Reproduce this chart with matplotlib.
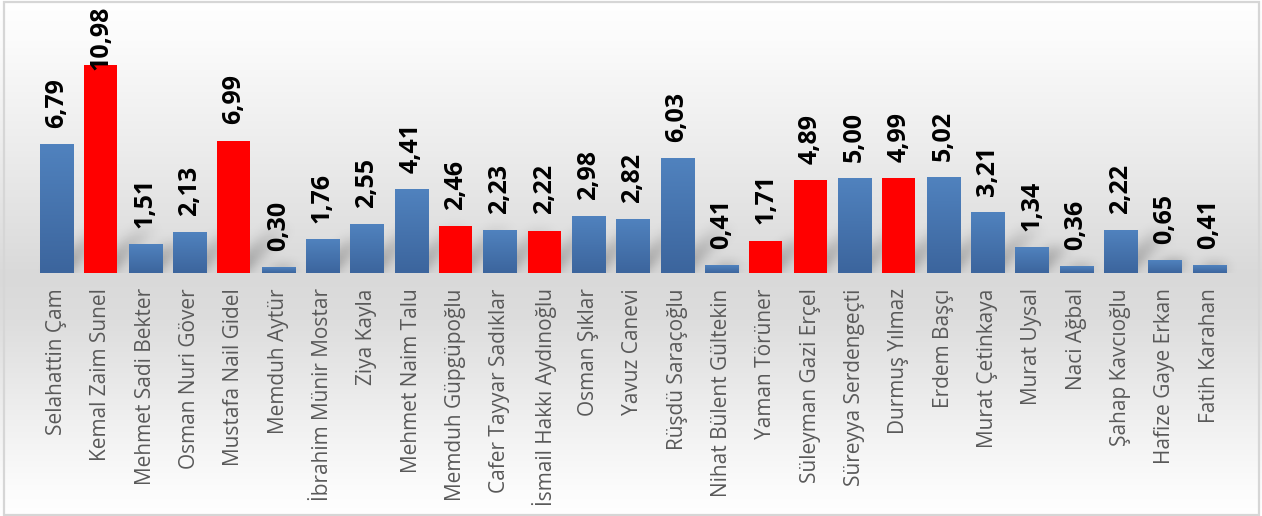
import numpy as np
import matplotlib.pyplot as plt
from matplotlib.patches import Rectangle

names = [
    "Selahattin Çam", "Kemal Zaim Sunel", "Mehmet Sadi Bekter", "Osman Nuri Göver",
    "Mustafa Nail Gidel", "Memduh Aytür", "İbrahim Münir Mostar", "Ziya Kayla",
    "Mehmet Naim Talu", "Memduh Güpgüpoğlu", "Cafer Tayyar Sadıklar",
    "İsmail Hakkı Aydınoğlu", "Osman Şıklar", "Yavuz Canevi", "Rüşdü Saraçoğlu",
    "Nihat Bülent Gültekin", "Yaman Törüner", "Süleyman Gazi Erçel",
    "Süreyya Serdengeçti", "Durmuş Yılmaz", "Erdem Başçı", "Murat Çetinkaya",
    "Murat Uysal", "Naci Ağbal", "Şahap Kavcıoğlu", "Hafize Gaye Erkan", "Fatih Karahan",
]
values = [6.79, 10.98, 1.51, 2.13, 6.99, 0.30, 1.76, 2.55, 4.41, 2.46, 2.23, 2.22,
          2.98, 2.82, 6.03, 0.41, 1.71, 4.89, 5.00, 4.99, 5.02, 3.21, 1.34, 0.36,
          2.22, 0.65, 0.41]
highlighted = ["Kemal Zaim Sunel", "Mustafa Nail Gidel", "Memduh Güpgüpoğlu",
               "İsmail Hakkı Aydınoğlu", "Yaman Törüner", "Süleyman Gazi Erçel",
               "Durmuş Yılmaz"]

W, H, DPI = 1262, 516, 100
fig = plt.figure(figsize=(W / DPI, H / DPI), dpi=DPI)

# background gradient
bg = fig.add_axes([0, 0, 1, 1], zorder=0)
py = np.array([0, 40, 150, 275, 320, 420, 490, 516])
pv = np.array([255, 251, 236, 217, 221, 240, 252, 255]) / 255
col = np.interp(np.arange(H), py, pv)
grad = np.repeat(col[:, None], 2, axis=1)
bg.imshow(np.dstack([grad] * 3), aspect="auto", extent=[0, W, H, 0])
bg.set_xlim(0, W)
bg.set_ylim(H, 0)
bg.axis("off")
bg.add_patch(Rectangle((4, 2), 1255, 513, fill=False, ec="#d6d6d6", lw=1.6))

# main axes: baseline at y=273 px, 18.94 px per unit, 44.33 px per bar
base_px = 273
ppu = 18.94
step = 44.33
x0_px = 56.5
ax = fig.add_axes([0, (H - base_px) / H, 1, base_px / H], zorder=1)
ax.patch.set_alpha(0)
for s in ax.spines.values():
    s.set_visible(False)
xlim = (-x0_px / step, (W - x0_px) / step)
ylim = (0, base_px / ppu)

x = np.arange(len(values))
bw = 0.745

# soft shadows behind bars
xs = np.linspace(*xlim, W)
ys = np.linspace(*ylim, base_px)
XX, YY = np.meshgrid(xs, ys)
mask = np.zeros_like(XX)
skew = ppu / step
for xi, v in zip(x, values):
    L = min(v, 2.4)
    sx = XX - YY * skew
    m = (sx >= xi - bw / 2 + 0.15) & (sx <= xi + bw / 2 - 0.1) & (YY <= L)
    mask = np.maximum(mask, m * (1 - YY / 2.8))


def blur(a, sig, axis):
    k = np.arange(-3 * sig, 3 * sig + 1)
    k = np.exp(-k ** 2 / (2 * sig ** 2))
    k /= k.sum()
    return np.apply_along_axis(lambda r: np.convolve(r, k, mode="same"), axis, a)


mask = blur(blur(mask, 6, 1), 6, 0)
shadow = np.zeros(mask.shape + (4,))
shadow[..., 3] = mask * 0.35
ax.imshow(shadow, origin="lower", aspect="auto", zorder=1,
          extent=[xs[0], xs[-1], 0, ys[-1]])

# bars
top_c = np.array([80, 130, 190]) / 255
bot_c = np.array([60, 101, 157]) / 255
t = np.linspace(0, 1, 64)[:, None]
bar_grad = (bot_c * (1 - t) + top_c * t)[:, None, :]
for xi, v, n in zip(x, values, names):
    if n in highlighted:
        ax.bar(xi, v, width=bw, color="#ff0000", zorder=2)
    else:
        ax.imshow(bar_grad, origin="lower", aspect="auto", zorder=2,
                  extent=[xi - bw / 2, xi + bw / 2, 0, v])
ax.set_xlim(*xlim)
ax.set_ylim(*ylim)

# value labels
label_cap = 10.72
for xi, v in zip(x, values):
    y = min(v + 16.5 / ppu, label_cap)
    ax.text(xi, y, f"{v:.2f}".replace(".", ","), rotation=90, ha="center",
            va="bottom", fontsize=18, fontweight="bold", family="Open Sans",
            color="black", zorder=3)

ax.set_xticks(x)
ax.set_xticklabels(names, rotation=90, fontsize=15, family="Open Sans",
                   color="#595959")
ax.tick_params(axis="x", length=0, pad=11)
ax.set_yticks([])

fig.savefig("out.png", dpi=DPI)
